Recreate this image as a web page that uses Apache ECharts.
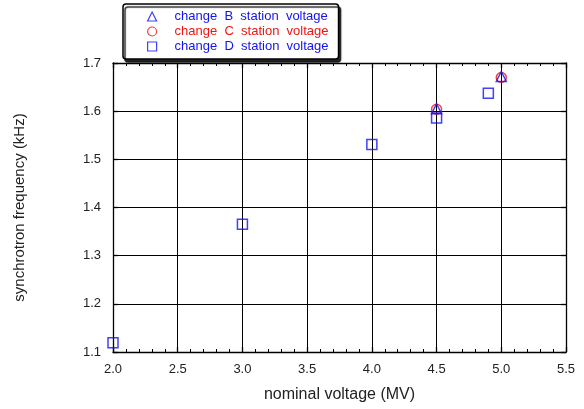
<!DOCTYPE html>
<html>
<head>
<meta charset="utf-8">
<script src="https://cdn.jsdelivr.net/npm/echarts@6/dist/echarts.min.js"></script>
<style>
  html, body { margin: 0; padding: 0; background: #fff; }
  #chart { width: 584px; height: 409px; }
</style>
</head>
<body>
<div id="chart"></div>
<script>
// datos
const xTicks = [2.0, 2.5, 3.0, 3.5, 4.0, 4.5, 5.0, 5.5];
const yTicks = [1.1, 1.2, 1.3, 1.4, 1.5, 1.6, 1.7];

const voltB = [4.5, 5.0];
const freqB = [1.605, 1.672];
const voltC = [4.5, 5.0];
const freqC = [1.604, 1.670];
const voltD = [2.0, 3.0, 4.0, 4.5, 4.9];
const freqD = [1.119, 1.365, 1.531, 1.586, 1.637];

const nameB = 'change  B  station  voltage';
const nameC = 'change  C  station  voltage';
const nameD = 'change  D  station  voltage';

const blue = '#1212f2';
const red = '#f01414';
const font = 'Liberation Sans';

const pairs = (xs, ys) => xs.map((x, i) => [x, ys[i]]);

document.addEventListener('DOMContentLoaded', function () {
    const myChart = echarts.init(document.getElementById('chart'));

    const xAxisBase = {
        type: 'value',
        min: xTicks[0],
        max: xTicks[xTicks.length - 1],
        interval: 0.5,
        axisLine: { show: true, lineStyle: { color: '#000', width: 1.3 } },
        axisTick: { show: true, inside: true, length: 5, lineStyle: { color: '#000', width: 1.3 } },
        minorTick: { show: true, splitNumber: 5, length: 3, lineStyle: { color: '#000', width: 1 } },
        splitLine: { show: true, lineStyle: { color: '#000', width: 1 } }
    };
    const yAxisBase = {
        type: 'value',
        min: yTicks[0],
        max: yTicks[yTicks.length - 1],
        interval: 0.1,
        axisLine: { show: true, lineStyle: { color: '#000', width: 1.3 } },
        axisTick: { show: true, inside: true, length: 5, lineStyle: { color: '#000', width: 1.3 } },
        splitLine: { show: true, lineStyle: { color: '#000', width: 1 } }
    };

    const option = {
        animation: false,
        grid: { left: 113, right: 18, top: 63, bottom: 57, outerBoundsMode: 'none' },
        legend: {
            orient: 'vertical',
            left: 123,
            top: 4,
            padding: [6, 10, 6, 24],
            itemGap: 2,
            itemWidth: 9,
            itemHeight: 9,
            itemStyle: { borderWidth: 1.2 },
            backgroundColor: '#fff',
            borderColor: '#000',
            borderWidth: 1.5,
            borderRadius: 3,
            shadowColor: 'rgba(0,0,0,0.85)',
            shadowBlur: 1,
            shadowOffsetX: 2,
            shadowOffsetY: 3,
            textStyle: { fontFamily: font, fontSize: 13, padding: [0, 0, 0, 13] },
            data: [
                { name: nameB, textStyle: { color: blue } },
                { name: nameC, textStyle: { color: red } },
                { name: nameD, textStyle: { color: blue } }
            ]
        },
        xAxis: [
            Object.assign({}, xAxisBase, {
                position: 'bottom',
                name: 'nominal voltage (MV)',
                nameLocation: 'middle',
                nameGap: 35,
                nameTextStyle: { fontFamily: font, fontSize: 16, color: '#222' },
                axisLabel: {
                    margin: 11, fontFamily: font, fontSize: 13, color: '#222',
                    formatter: v => v.toFixed(1)
                }
            }),
            Object.assign({}, xAxisBase, {
                position: 'top',
                axisLabel: { show: false },
                splitLine: { show: false }
            })
        ],
        yAxis: [
            Object.assign({}, yAxisBase, {
                position: 'left',
                name: 'synchrotron frequency (kHz)',
                nameLocation: 'middle',
                nameGap: 86,
                nameTextStyle: { fontFamily: font, fontSize: 15, color: '#222' },
                axisLabel: {
                    margin: 12, fontFamily: font, fontSize: 13, color: '#222',
                    formatter: v => v.toFixed(1)
                }
            }),
            Object.assign({}, yAxisBase, {
                position: 'right',
                axisLabel: { show: false },
                splitLine: { show: false }
            })
        ],
        series: [
            {
                name: nameD,
                type: 'scatter',
                symbol: 'rect',
                symbolSize: 10,
                itemStyle: { color: 'rgba(255,255,255,0)', borderColor: blue, borderWidth: 1.5 },
                data: pairs(voltD, freqD)
            },
            {
                name: nameC,
                type: 'scatter',
                symbol: 'circle',
                symbolSize: 10,
                itemStyle: { color: 'rgba(255,255,255,0)', borderColor: red, borderWidth: 1.5 },
                data: pairs(voltC, freqC)
            },
            {
                name: nameB,
                type: 'scatter',
                symbol: 'triangle',
                symbolSize: 10,
                itemStyle: { color: 'rgba(255,255,255,0)', borderColor: blue, borderWidth: 1.5 },
                data: pairs(voltB, freqB)
            }
        ]
    };

    myChart.setOption(option);
});
</script>
</body>
</html>
